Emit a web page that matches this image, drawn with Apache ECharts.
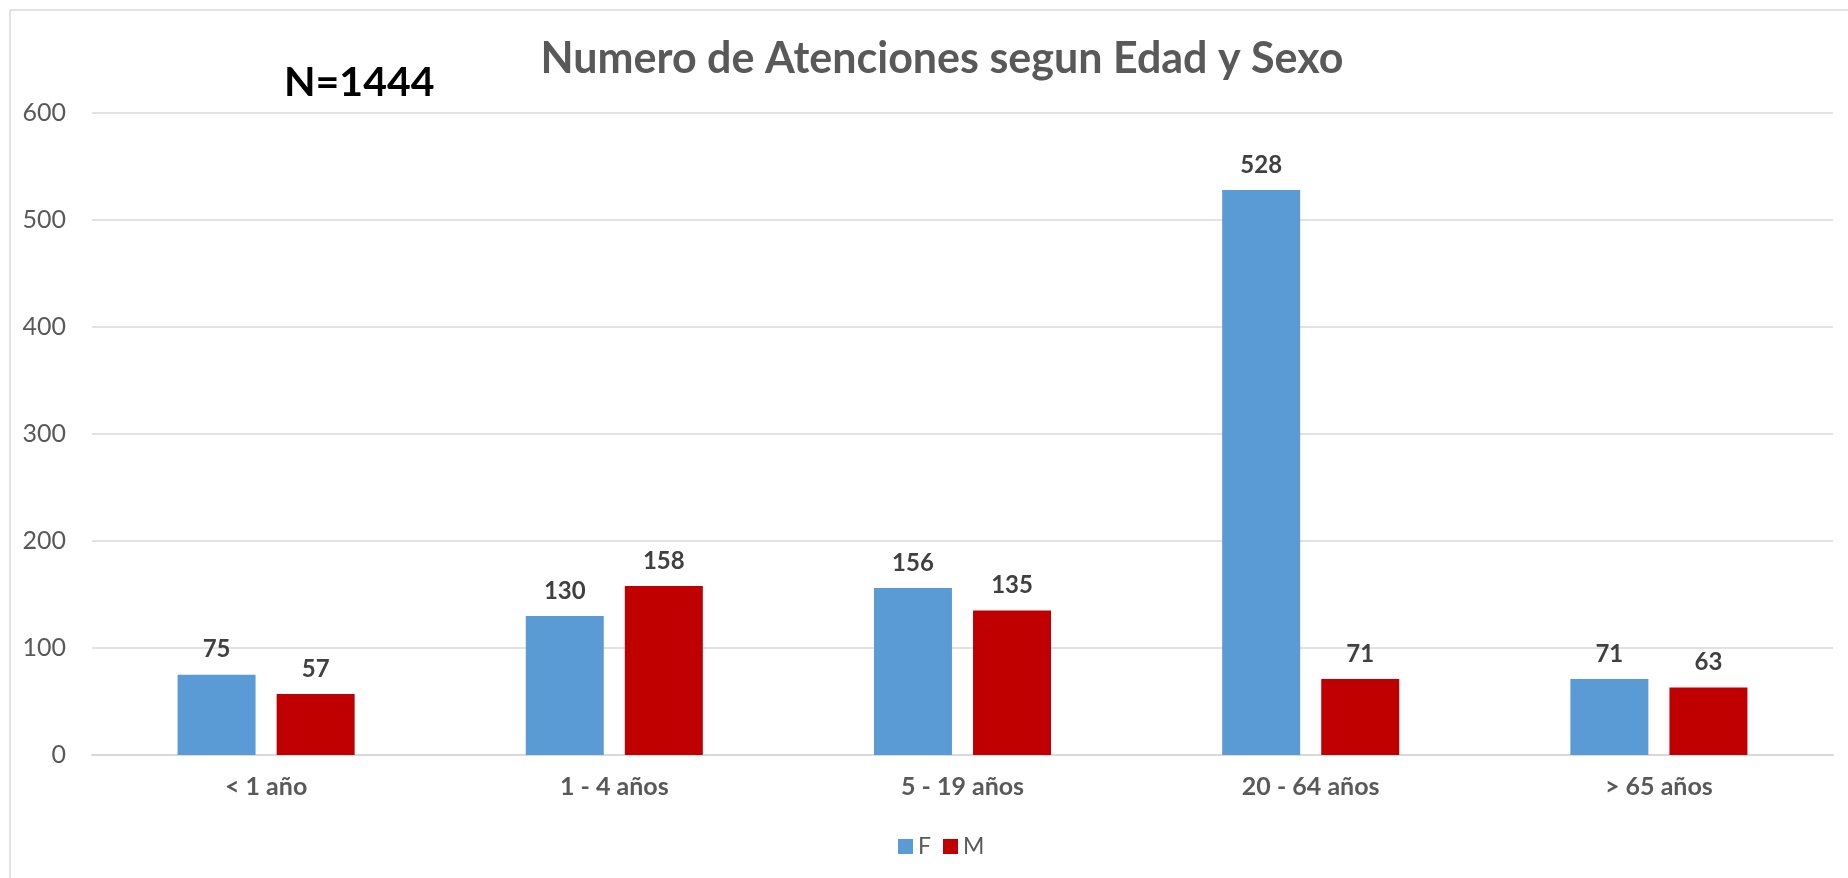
<!DOCTYPE html>
<html>
<head>
<meta charset="utf-8">
<title>Numero de Atenciones segun Edad y Sexo</title>
<script src="https://cdn.jsdelivr.net/npm/echarts@6/dist/echarts.min.js"></script>
<style>
  html, body { margin: 0; padding: 0; background: #fff; }
  #chart { width: 1848px; height: 878px; }
</style>
</head>
<body>
<div id="chart"></div>
<script>
// data
const categories = ['< 1 año', '1 - 4 años', '5 - 19 años', '20 - 64 años', '> 65 años'];
const femaleValues = [75, 130, 156, 528, 71];
const maleValues = [57, 158, 135, 71, 63];
const seriesNames = ['F', 'M'];
const totalLabel = 'N=1444';

const FONT = 'Lato, "Open Sans", sans-serif';
const GREY = '#595959';

const chart = echarts.init(document.getElementById('chart'));

const barLabel = {
	show: true,
	position: 'top',
	distance: 13,
	color: '#404040',
	fontFamily: FONT,
	fontWeight: 'bold',
	fontSize: 24,
};

chart.setOption({
	backgroundColor: '#fff',
	animation: false,
	title: {
		text: 'Numero de Atenciones segun Edad y Sexo',
		left: 937,
		top: 54,
		textAlign: 'center',
		textVerticalAlign: 'middle',
		textStyle: { color: GREY, fontFamily: FONT, fontWeight: 'bold', fontSize: 43 },
	},
	graphic: [
		{
			// outer chart frame (only top and left edges show)
			type: 'rect',
			shape: { x: 10, y: 10, width: 1900, height: 900 },
			style: { fill: 'none', stroke: '#d9d9d9', lineWidth: 1.5 },
			silent: true,
			z: -1,
		},
		{
			type: 'text',
			left: 284,
			top: 62,
			style: { text: totalLabel, fill: '#000', font: 'bold 41px ' + FONT },
		},
	],
	legend: {
		data: seriesNames,
		left: 893,
		top: 830,
		itemWidth: 15,
		itemHeight: 15,
		itemGap: 12,
		icon: 'rect',
		textStyle: { color: GREY, fontFamily: FONT, fontSize: 23 },
	},
	grid: { left: 92, right: 15, top: 113, bottom: 123 },
	xAxis: {
		type: 'category',
		data: categories,
		axisLine: { lineStyle: { color: '#d9d9d9', width: 2 } },
		axisTick: { show: false },
		axisLabel: { color: GREY, fontFamily: FONT, fontWeight: 'bold', fontSize: 25, margin: 19 },
	},
	yAxis: {
		type: 'value',
		min: 0,
		max: 600,
		interval: 100,
		axisLine: { show: false },
		axisTick: { show: false },
		splitLine: { lineStyle: { color: '#d9d9d9', width: 1.5 } },
		axisLabel: { color: GREY, fontFamily: FONT, fontSize: 25, margin: 26 },
	},
	series: [
		{
			name: seriesNames[0],
			type: 'bar',
			data: femaleValues,
			barWidth: 78,
			barGap: '27%',
			itemStyle: { color: '#5b9bd5' },
			label: barLabel,
		},
		{
			name: seriesNames[1],
			type: 'bar',
			data: maleValues,
			barWidth: 78,
			itemStyle: { color: '#c00000' },
			label: barLabel,
		},
	],
});
</script>
</body>
</html>
